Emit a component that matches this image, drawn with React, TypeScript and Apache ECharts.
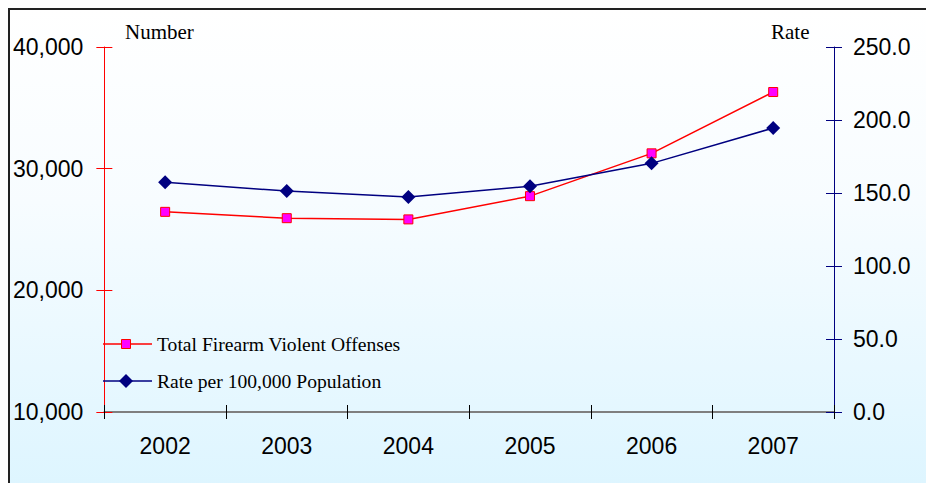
import React, { useEffect, useRef } from "react";
import * as echarts from "echarts";

const categories = ["2002", "2003", "2004", "2005", "2006", "2007"];
const offenses = [26450, 25930, 25830, 27740, 31260, 36300];
const rates = [157.3, 151.3, 147.2, 154.7, 170.3, 194.5];
const seriesNames = ["Total Firearm Violent Offenses", "Rate per 100,000 Population"];
const leftAxisTitle = "Number";
const rightAxisTitle = "Rate";

const SANS = "'Liberation Sans', Arial, sans-serif";
const SERIF = "'Liberation Serif', 'Times New Roman', serif";

const RED = "#FF0000";
const PINK = "#FF00FF";
const NAVY = "#000080";

const CHART_W = 940;
const CHART_H = 480;

export default function App() {
  const ref = useRef<HTMLDivElement>(null);

  useEffect(() => {
    document.documentElement.style.overflow = "hidden";
    document.body.style.overflow = "hidden";
    if (!ref.current) return;
    const chart = echarts.init(ref.current, undefined, { renderer: "svg" });
    const gridLeft = 94;
    const gridRight = CHART_W - 824;
    const gridTop = 37;
    const gridBottom = CHART_H - 402;

    const lgX0 = 93;
    const lgX1 = 142;
    const lgMx = 116;
    const lgY = [334, 371];
    const legendFont = `19.6px ${SERIF}`;

    chart.setOption({
      animation: false,
      backgroundColor: new echarts.graphic.LinearGradient(0, 0, 0, 1, [
        { offset: 0, color: "#FFFFFF" },
        { offset: 0.4, color: "#F7FCFF" },
        { offset: 1, color: "#DDF5FF" },
      ]),
      grid: { left: gridLeft, right: gridRight, top: gridTop, bottom: gridBottom },
      graphic: [
        {
          type: "text",
          left: 115,
          top: 11,
          style: { text: leftAxisTitle, font: `21px ${SERIF}`, fill: "#000" },
        },
        {
          type: "text",
          left: 761,
          top: 11,
          style: { text: rightAxisTitle, font: `21px ${SERIF}`, fill: "#000" },
        },
        {
          type: "line",
          z: 10,
          shape: { x1: lgX0, y1: lgY[0], x2: lgX1, y2: lgY[0] },
          style: { stroke: RED, lineWidth: 1.5 },
        },
        {
          type: "rect",
          z: 11,
          shape: { x: lgMx - 4.5, y: lgY[0] - 4.5, width: 9, height: 9 },
          style: { fill: PINK, stroke: RED, lineWidth: 1 },
        },
        {
          type: "text",
          z: 11,
          x: 147,
          y: lgY[0],
          style: {
            text: seriesNames[0],
            font: legendFont,
            fill: "#000",
            verticalAlign: "middle",
            align: "left",
          },
        },
        {
          type: "line",
          z: 10,
          shape: { x1: lgX0, y1: lgY[1], x2: lgX1, y2: lgY[1] },
          style: { stroke: NAVY, lineWidth: 1.5 },
        },
        {
          type: "polygon",
          z: 11,
          shape: {
            points: [
              [lgMx, lgY[1] - 7],
              [lgMx + 7, lgY[1]],
              [lgMx, lgY[1] + 7],
              [lgMx - 7, lgY[1]],
            ],
          },
          style: { fill: NAVY },
        },
        {
          type: "text",
          z: 11,
          x: 147,
          y: lgY[1],
          style: {
            text: seriesNames[1],
            font: legendFont,
            fill: "#000",
            verticalAlign: "middle",
            align: "left",
          },
        },
      ],
      xAxis: [
        {
          type: "category",
          data: categories,
          position: "bottom",
          boundaryGap: true,
          axisLine: { lineStyle: { color: "#7F7F7F", width: 2 } },
          axisTick: { show: true, inside: false, length: 7, lineStyle: { color: "#000", width: 1 } },
          axisLabel: { color: "#000", fontFamily: SANS, fontSize: 23, margin: 22 },
          splitLine: { show: false },
        },
        {
          type: "category",
          data: categories,
          position: "bottom",
          boundaryGap: true,
          axisLine: { show: false },
          axisTick: { show: true, inside: true, length: 7, lineStyle: { color: "#000", width: 1 } },
          axisLabel: { show: false },
          splitLine: { show: false },
        },
      ],
      yAxis: [
        {
          type: "value",
          position: "left",
          min: 10000,
          max: 40000,
          interval: 10000,
          axisLine: { show: true, lineStyle: { color: RED, width: 1 } },
          axisTick: { show: true, inside: false, length: 8, lineStyle: { color: RED } },
          axisLabel: {
            color: "#000",
            fontFamily: SANS,
            fontSize: 23,
            margin: 21,
            formatter: (v: number) => v.toLocaleString("en-US"),
          },
          splitLine: { show: false },
        },
        {
          type: "value",
          position: "left",
          min: 10000,
          max: 40000,
          interval: 10000,
          axisLine: { show: false },
          axisTick: { show: true, inside: true, length: 8, lineStyle: { color: RED } },
          axisLabel: { show: false },
          splitLine: { show: false },
        },
        {
          type: "value",
          position: "right",
          min: 0,
          max: 250,
          interval: 50,
          axisLine: { show: true, lineStyle: { color: NAVY, width: 1 } },
          axisTick: { show: true, inside: false, length: 8, lineStyle: { color: NAVY } },
          axisLabel: {
            color: "#000",
            fontFamily: SANS,
            fontSize: 23,
            margin: 19,
            formatter: (v: number) => v.toFixed(1),
          },
          splitLine: { show: false },
        },
        {
          type: "value",
          position: "right",
          min: 0,
          max: 250,
          interval: 50,
          axisLine: { show: false },
          axisTick: { show: true, inside: true, length: 8, lineStyle: { color: NAVY } },
          axisLabel: { show: false },
          splitLine: { show: false },
        },
      ],
      series: [
        {
          name: seriesNames[0],
          type: "line",
          xAxisIndex: 0,
          yAxisIndex: 0,
          data: offenses,
          symbol: "rect",
          symbolSize: 9,
          lineStyle: { color: RED, width: 1.5 },
          itemStyle: { color: PINK, borderColor: RED, borderWidth: 1 },
          z: 3,
        },
        {
          name: seriesNames[1],
          type: "line",
          xAxisIndex: 0,
          yAxisIndex: 2,
          data: rates,
          symbol: "diamond",
          symbolSize: 14,
          lineStyle: { color: NAVY, width: 1.5 },
          itemStyle: { color: NAVY, borderWidth: 0 },
          z: 4,
        },
      ],
    });

    return () => chart.dispose();
  }, []);

  return (
    <div
      style={{
        position: "fixed",
        left: 8,
        top: 8,
        borderTop: "2px solid #222",
        borderLeft: "2px solid #222",
        width: CHART_W,
        height: CHART_H,
        overflow: "hidden",
      }}
    >
      <div ref={ref} style={{ width: CHART_W, height: CHART_H }} />
    </div>
  );
}
